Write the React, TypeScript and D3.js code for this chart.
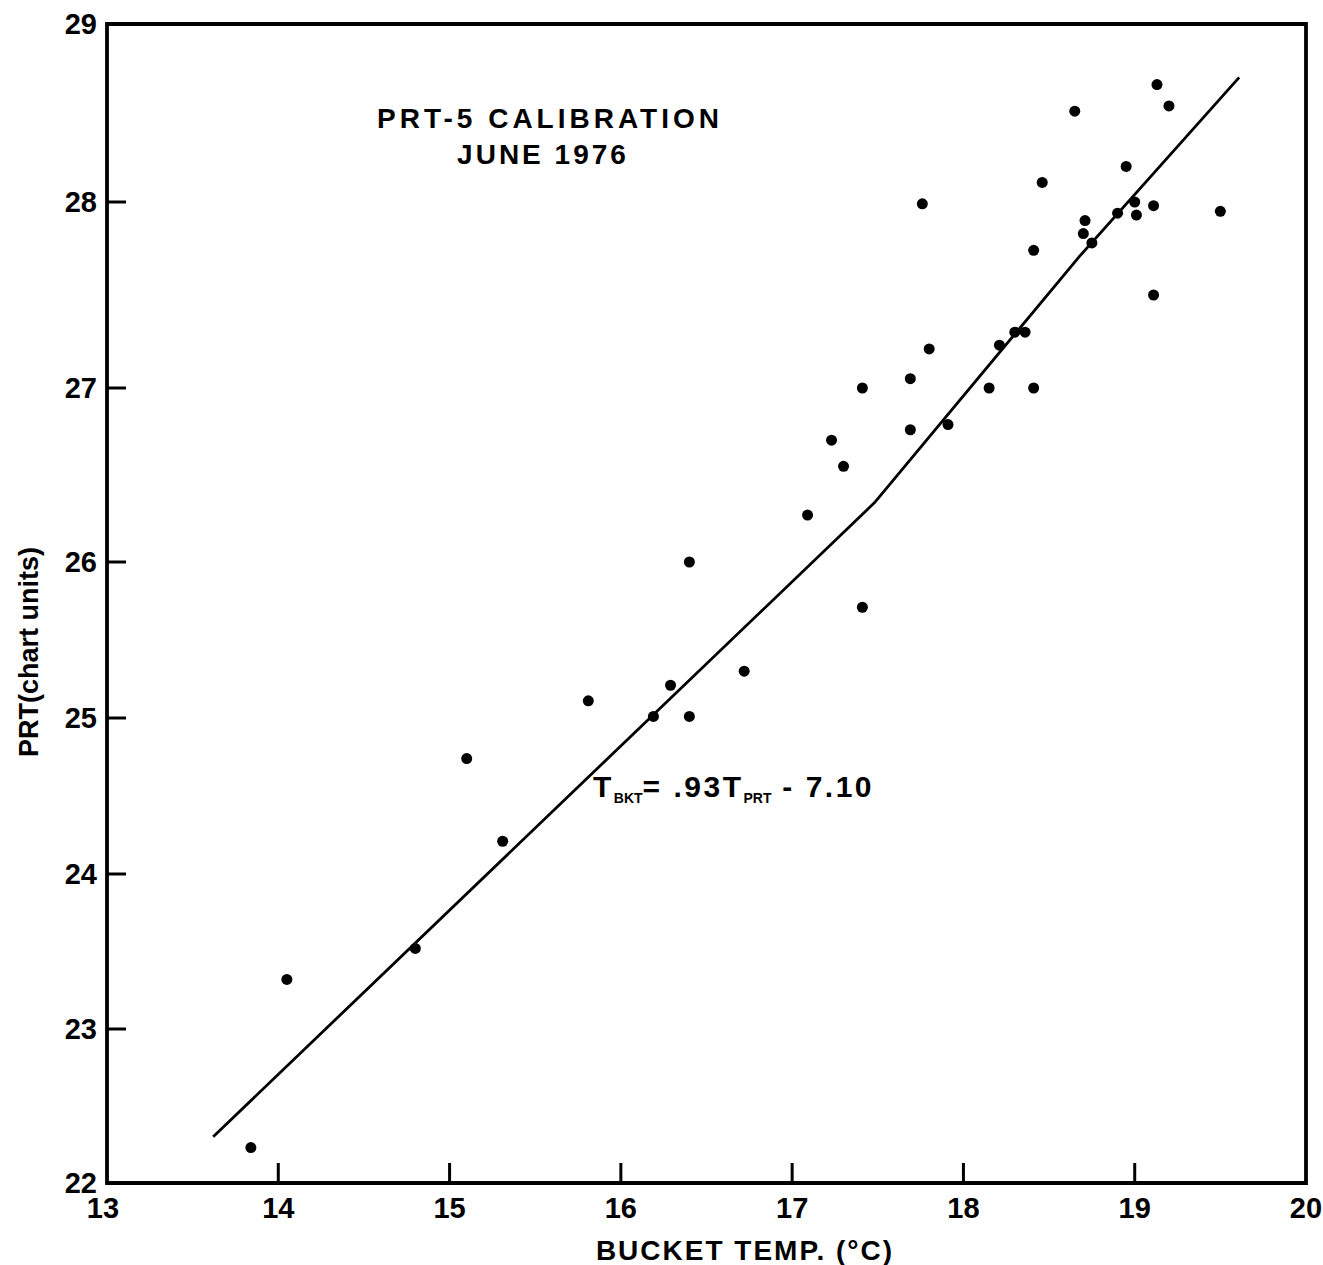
import React from "react";
import * as d3 from "d3";

// Scatter data: bucket temp (°C) vs PRT (chart units)
const bucketTemp = [
  13.84, 14.05, 14.8, 15.1, 15.31, 15.81, 16.19, 16.29, 16.4, 16.4, 16.72,
  17.09, 17.23, 17.3, 17.41, 17.41, 17.69, 17.69, 17.8, 17.76, 17.91, 18.15,
  18.21, 18.3, 18.36, 18.41, 18.41, 18.46, 18.65, 18.7, 18.71, 18.75, 18.9,
  18.95, 19.0, 19.01, 19.11, 19.11, 19.13, 19.2, 19.5,
];
const prtUnits = [
  22.23, 23.32, 23.52, 24.74, 24.21, 25.11, 25.01, 25.21, 25.01, 26.0, 25.3,
  26.27, 26.7, 26.55, 25.71, 27.0, 26.76, 27.05, 27.21, 27.99, 26.79, 27.0,
  27.23, 27.3, 27.3, 27.0, 27.74, 28.11, 28.51, 27.83, 27.9, 27.78, 27.94,
  28.2, 28.0, 27.93, 27.98, 27.5, 28.66, 28.54, 27.95,
];

// Fitted line vertices
const fitX = [13.62, 17.48, 18.68, 19.61];
const fitY = [22.3, 26.34, 27.71, 28.7];

const xTicks = [13, 14, 15, 16, 17, 18, 19, 20];
const yTicks = [22, 23, 24, 25, 26, 27, 28, 29];
// hand-drawn y axis: tick pixel positions are uneven
const yTickPixels = [1183, 1029, 874, 718, 562, 388, 202, 24];

const titleLines = ["PRT-5 CALIBRATION", "JUNE 1976"];
const xTitle = "BUCKET TEMP. (°C)";
const yTitle = "PRT(chart units)";

export default function App() {
  const left = 107;
  const right = 1306;
  const top = 24;
  const bottom = 1183;

  const x = d3.scaleLinear().domain([13, 20]).range([left, right]);
  const y = d3.scaleLinear().domain(yTicks).range(yTickPixels);

  const fitPts: [number, number][] = fitX.map((v, i) => [v, fitY[i]]);
  const line = d3
    .line<[number, number]>()
    .x((d) => x(d[0]))
    .y((d) => y(d[1]));

  const font = "'Liberation Sans', Arial, sans-serif";
  const axisW = 3.8;

  return (
    <svg
      width={1323}
      height={1265}
      style={{ position: "absolute", left: 0, top: 0, background: "#fff" }}
      fontFamily={font}
    >
      <rect x={0} y={0} width={1323} height={1265} fill="#fff" />
      {/* frame */}
      <path
        d={`M${left},${top}L${right},${top}L${right},${bottom}L${left},${bottom}Z`}
        fill="none"
        stroke="#000"
        strokeWidth={axisW}
        strokeLinejoin="miter"
      />
      {/* x ticks */}
      {xTicks.slice(1, -1).map((t) => (
        <line
          key={"xt" + t}
          x1={x(t)}
          x2={x(t)}
          y1={bottom}
          y2={bottom - 20}
          stroke="#000"
          strokeWidth={3}
        />
      ))}
      {/* y ticks */}
      {yTicks.slice(1, -1).map((t) => (
        <line
          key={"yt" + t}
          x1={left}
          x2={left + 19}
          y1={y(t)}
          y2={y(t)}
          stroke="#000"
          strokeWidth={3}
        />
      ))}
      {/* x tick labels */}
      {xTicks.map((t) => (
        <text
          key={"xl" + t}
          x={x(t) - (t === 13 ? 4 : 0)}
          y={1218}
          textAnchor="middle"
          fontSize={29}
          fontWeight="bold"
        >
          {t}
        </text>
      ))}
      {/* y tick labels */}
      {yTicks.map((t) => (
        <text
          key={"yl" + t}
          x={97}
          y={y(t) + 10}
          textAnchor="end"
          fontSize={29}
          fontWeight="bold"
        >
          {t}
        </text>
      ))}
      {/* fit line */}
      <path
        d={line(fitPts) || ""}
        fill="none"
        stroke="#000"
        strokeWidth={2.8}
        strokeLinejoin="round"
      />
      {/* points */}
      {bucketTemp.map((v, i) => (
        <circle key={"p" + i} cx={x(v)} cy={y(prtUnits[i])} r={5.5} fill="#000" />
      ))}
      {/* title */}
      <text
        x={550}
        y={128}
        textAnchor="middle"
        fontSize={28}
        fontWeight="bold"
        letterSpacing={4}
      >
        {titleLines[0]}
      </text>
      <text
        x={543}
        y={164}
        textAnchor="middle"
        fontSize={28}
        fontWeight="bold"
        letterSpacing={3}
      >
        {titleLines[1]}
      </text>
      {/* equation */}
      <text x={593} y={797} fontSize={30} fontWeight="bold" letterSpacing={2.5}>
        T
        <tspan fontSize={14} dy={6} letterSpacing={0}>
          BKT
        </tspan>
        <tspan dy={-6} fontSize={30}>
          {"=  .93T"}
        </tspan>
        <tspan fontSize={14} dy={6} letterSpacing={0}>
          PRT
        </tspan>
        <tspan dy={-6} fontSize={30}>
          {" -  7.10"}
        </tspan>
      </text>
      {/* axis titles */}
      <text
        x={745}
        y={1260}
        textAnchor="middle"
        fontSize={28}
        fontWeight="bold"
        letterSpacing={2}
      >
        {xTitle}
      </text>
      <text
        transform="translate(38,652) rotate(-90)"
        textAnchor="middle"
        fontSize={27}
        fontWeight="bold"
      >
        {yTitle}
      </text>
    </svg>
  );
}
